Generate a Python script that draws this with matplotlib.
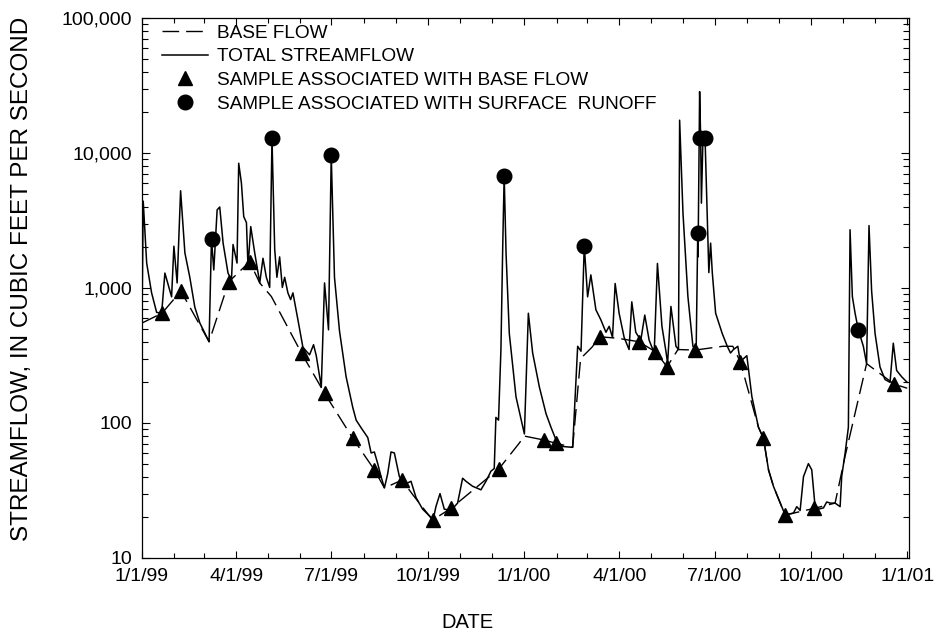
import datetime as dt
import numpy as np
import matplotlib
matplotlib.use("Agg")
import matplotlib.pyplot as plt
import matplotlib.dates as mdates
from matplotlib.ticker import FuncFormatter, LogLocator, NullFormatter

plt.rcParams['font.family'] = ['Liberation Sans', 'DejaVu Sans']

# days since 1/1/99, streamflow in cubic feet per second
total_day = [0, 1.2, 4.5, 9.2, 14, 18.8, 21.9, 28.3, 30.5, 33.6, 36.9, 41, 45.7, 50.5, 55.3,
             60, 64.1, 66.4, 68.6, 71.8, 74.3, 77.5, 82.2, 85.5, 87, 90.8, 92.4, 95, 97.2,
             99.8, 101.3, 103.9, 107.7, 112.5, 115.6, 118.8, 122, 124.2, 126.8, 128.9,
             131.5, 134.1, 136.3, 139.4, 142, 144.2, 145.8, 149, 153.7, 157, 160.1, 163.9,
             166.5, 171.3, 174.4, 178.2, 180.8, 183.9, 188.7, 195, 201.4, 204.6, 209.4,
             215.7, 218.9, 222, 225.2, 228.4, 231.6, 234.7, 237.9, 241.1, 245.9, 252.2,
             257, 261.8, 268.1, 276.1, 277.7, 280.8, 284.7, 288.8, 295.2, 301.5, 306.3,
             309.5, 315.8, 323.8, 328.6, 333.4, 336.5, 338.1, 340.6, 342.9, 344.6, 346,
             347.8, 350.9, 357.3, 365.3, 369.1, 373.2, 379.6, 386, 390.7, 395.5, 401.8,
             411.4, 416.2, 419.4, 422.5, 425.7, 428.8, 433.6, 438.4, 443.2, 446.3, 449.5,
             452, 455.8, 460.6, 465.3, 467.9, 471.7, 476.5, 480.3, 484.5, 489.3, 492.4,
             496.7, 500.5, 502.1, 505.3, 510.1, 512.5, 513.6, 516.8, 521.5, 526.3, 529.4,
             530.9, 531.2, 532.2, 532.7, 533.7, 534.4, 535.9, 537.9, 541.5, 543.2, 544.8,
             548, 554.3, 559.1, 562.2, 565, 569.2, 571.5, 577.8, 582.6, 588.9, 593.7,
             598.5, 603.2, 608, 613.7, 615.9, 622.3, 625.5, 628.7, 631.9, 636.6, 639.8,
             643, 646.2, 651, 654.1, 657.4, 662.1, 666.9, 668.4, 671.7, 674.8, 676.4,
             678.6, 681.2, 684.3, 689.1, 692.2, 694.5, 697, 700.3, 705, 709.8, 714.6,
             717.7, 720.9, 725.7, 731]
total_cfs = [550, 4400, 1530, 920, 660, 650, 1290, 860, 2040, 1090, 5250, 1820, 1200, 720, 550,
             465, 400, 2300, 1360, 3790, 3980, 2150, 1290, 1150, 2100, 1530, 8400, 5980, 3380,
             3050, 1430, 2850, 1820, 1090, 1660, 1200, 1010, 12800, 1930, 1200,
             1700, 1010, 1200, 920, 820, 920, 790, 580, 365, 340, 320, 380,
             315, 185, 1090, 490, 9600, 1200, 480, 220, 130, 105, 92,
             78, 60, 61, 50, 40, 33, 42, 61, 60, 40, 35.5,
             37, 28, 23, 20, 18.5, 24, 30, 23, 22.5, 25.5, 39,
             37, 34, 32, 37, 44, 46, 110, 105, 350, 2000, 6800,
             1800, 460, 156, 83, 650, 330, 185, 117, 93, 75, 67,
             66, 370, 340, 2050, 860, 1250, 690, 580, 470, 520, 430,
             1080, 650, 430, 350, 790, 470, 410, 630, 410, 330, 1520,
             520, 340, 277, 730, 370, 350, 17500, 3590, 865, 370, 350,
             2500, 1700, 12800, 28500, 12800, 4250, 13000, 12800, 1300, 2150, 1300,
             650, 460, 370, 330, 350, 370, 285, 315, 157, 93, 77,
             45, 34, 27.5, 21.5, 21, 21.5, 24, 22.5, 40, 50, 45,
             24, 23, 23.5, 26, 25.5, 25.5, 24, 40, 60, 93, 2700,
             865, 650, 490, 370, 275, 2900, 950, 460, 260, 210, 200,
             390, 245, 220, 200]

base_day = [0, 19.1, 37.2, 64.1, 82.9, 102.9, 112.5, 123.6, 152.5, 174.4, 201.4, 222, 231.6,
            248.4, 258.6, 277.6, 295.1, 341.2, 360.2, 365.3, 384, 395.8, 411.4, 419, 430,
            437.1, 453.9, 474.6, 490.5, 501.6, 512, 528.6, 554.9, 564.4, 571.5, 588.9,
            593.7, 598.5, 603.2, 608, 614.4, 641.9, 662.1, 671.7, 684.3, 692.2, 718.6, 731]
base_cfs = [550, 650, 950, 400, 1110, 1565, 1090, 865, 328, 166, 77, 45, 33,
            37.8, 29.5, 19.1, 23.3, 46, 70.6, 80, 74.8, 70.7, 66, 300, 365,
            435, 425, 400, 337, 261, 350, 347, 370, 370, 285, 93,
            77, 45, 34, 27.5, 20.8, 23.3, 25.5, 57, 150, 275, 194, 181]

base_sample_day = [19.1, 37.2, 82.9, 102.9, 152.5, 174.4, 201.4, 222, 248.4, 277.6, 295.1,
                   341.2, 384, 395.8, 437.1, 474.6, 490.5, 501.6, 528.6, 571.5, 593.7,
                   614.4, 641.9, 718.6]
base_sample_cfs = [650, 950, 1110, 1565, 328, 166, 77, 45, 37.8, 19.1, 23.3,
                   46, 74.8, 70.7, 435, 400, 337, 261, 347, 285, 77,
                   20.8, 23.3, 194]

runoff_sample_day = [66.7, 123.9, 180.1, 346, 422.2, 530.8, 533.3, 538.1, 684.3]
runoff_sample_cfs = [2300, 12900, 9600, 6800, 2050, 2540, 12850, 12850, 490]

start = mdates.date2num(dt.datetime(1999, 1, 1))


def to_x(days):
    return start + np.asarray(days, dtype=float)


fig = plt.figure(figsize=(9.34, 6.38), dpi=100)
ax = fig.add_axes([0.152, 0.1254, 0.821, 0.8464])

ax.plot(to_x(base_day), base_cfs, color='black', lw=1.0, dashes=(12, 5),
        label='BASE FLOW', zorder=2)
ax.plot(to_x(total_day), total_cfs, color='black', lw=1.1,
        label='TOTAL STREAMFLOW', zorder=3)
ax.plot(to_x(base_sample_day), base_sample_cfs, ls='none', marker='^', ms=10.5,
        color='black', label='SAMPLE ASSOCIATED WITH BASE FLOW', zorder=4)
ax.plot(to_x(runoff_sample_day), runoff_sample_cfs, ls='none', marker='o', ms=10.5,
        color='black', label='SAMPLE ASSOCIATED WITH SURFACE  RUNOFF', zorder=4)

ax.set_yscale('log')
ax.set_ylim(10, 100000)
ax.set_xlim(start, mdates.date2num(dt.datetime(2001, 1, 1)) + 1.5)

ax.yaxis.set_major_locator(LogLocator(base=10))
ax.yaxis.set_minor_locator(LogLocator(base=10, subs=np.arange(2, 10)))
ax.yaxis.set_major_formatter(FuncFormatter(lambda v, p: '{:,.0f}'.format(v)))
ax.yaxis.set_minor_formatter(NullFormatter())

ax.xaxis.set_major_locator(mdates.MonthLocator(bymonth=[1, 4, 7, 10]))
ax.xaxis.set_minor_locator(mdates.MonthLocator())


def date_label(v, p):
    d = mdates.num2date(v)
    return '%d/%d/%s' % (d.month, d.day, d.strftime('%y'))


ax.xaxis.set_major_formatter(FuncFormatter(date_label))

ax.tick_params(which='both', direction='in', top=True, right=True, labelsize=14, width=0.8)
ax.tick_params(axis='y', which='major', length=6, pad=7)
ax.tick_params(axis='y', which='minor', length=4)
ax.tick_params(axis='x', which='major', length=5, pad=7)
ax.tick_params(axis='x', which='minor', length=3.5)
for s in ax.spines.values():
    s.set_linewidth(0.9)

ax.set_xlabel('DATE', fontsize=14.5)
ax.xaxis.set_label_coords((468 - 142) / 767, -(623 - 558) / 540)
ax.xaxis.label.set_va('center')
ax.set_ylabel('STREAMFLOW, IN CUBIC FEET PER SECOND', fontsize=17.5)
ax.yaxis.set_label_coords(-(142 - 22) / 767, 1 - (279 - 18) / 540)
ax.yaxis.label.set_va('center')

ax.legend(loc='upper left', bbox_to_anchor=(0.026, 0.988), frameon=False, fontsize=13.7,
          borderpad=0, borderaxespad=0, handlelength=2.4, handletextpad=0.5,
          labelspacing=0.33, numpoints=1)

fig.savefig('out.png', dpi=100)
